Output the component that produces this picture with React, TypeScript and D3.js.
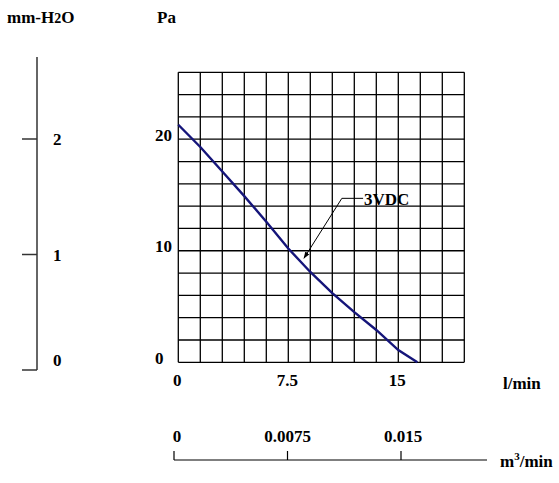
import React from "react";
import * as d3 from "d3";

const flow = [0, 1.5, 3, 4.5, 6, 7.5, 9, 10.5, 12, 13.5, 15, 16.3];
const pressure = [21.3, 19.3, 17.1, 14.9, 12.6, 10.2, 8.1, 6.2, 4.5, 2.9, 1.1, 0];
const paTicks = [0, 10, 20];
const lminTicks = [0, 7.5, 15];
const lminTickLabels = ["0", "7.5", "15"];
const m3Ticks = [0, 0.0075, 0.015];
const m3TickLabels = ["0", "0.0075", "0.015"];
const mmTicks = [0, 1, 2];
const seriesLabel = "3VDC";

const FONT = "'Liberation Serif', 'Times New Roman', serif";

export default function App() {
  const x = d3.scaleLinear().domain([0, 19.5]).range([178.3, 464.3]);
  const y = d3.scaleLinear().domain([0, 26]).range([362.3, 72.3]);
  const xm3 = d3.scaleLinear().domain([0, 0.015]).range([174, 401]);
  const ymm = d3.scaleLinear().domain([0, 2]).range([370, 139]);

  const vLines = d3.range(0, 19.5 + 0.001, 1.5);
  const hLines = d3.range(0, 26 + 0.001, 2);

  const line = d3
    .line<number>()
    .x((_, i) => x(flow[i]))
    .y((d) => y(d))
    .curve(d3.curveLinear);

  const textStyle = { fontFamily: FONT, fontWeight: 700, fontSize: 17, fill: "#000" } as const;

  return (
    <svg
      width={559}
      height={483}
      style={{ position: "absolute", left: 0, top: 0, background: "#fff" }}
    >
      <defs>
        <marker id="arr" viewBox="0 0 10 10" refX="9" refY="5" markerWidth="7" markerHeight="7" orient="auto">
          <path d="M0,1.5 L10,5 L0,8.5 z" fill="#000" />
        </marker>
      </defs>
      <rect width={559} height={483} fill="#fff" />

      {/* header labels */}
      <text x={7} y={23} {...textStyle}>
        mm-H<tspan fontSize={14}>2</tspan>O
      </text>
      <text x={157} y={23} {...textStyle}>Pa</text>

      {/* left mm-H2O axis */}
      <line x1={37} x2={37} y1={57} y2={ymm(0)} stroke="#333" strokeWidth={1.5} />
      {mmTicks.map((t) => (
        <g key={"mm" + t}>
          <line x1={22} x2={37} y1={ymm(t)} y2={ymm(t)} stroke="#333" strokeWidth={1.5} />
          <text x={53} y={t === 0 ? ymm(t) - 4 : ymm(t) + 6} {...textStyle}>
            {t}
          </text>
        </g>
      ))}

      {/* grid */}
      {vLines.map((v) => (
        <line key={"v" + v} x1={x(v)} x2={x(v)} y1={y(26)} y2={y(0)} stroke="#000" strokeWidth={1.3} />
      ))}
      {hLines.map((h) => (
        <line key={"h" + h} x1={x(0)} x2={x(19.5)} y1={y(h)} y2={y(h)} stroke="#000" strokeWidth={1.3} />
      ))}

      {/* Pa tick labels */}
      {paTicks.map((t) => (
        <text key={"pa" + t} x={155} y={y(t) + 1.5} {...textStyle}>
          {t}
        </text>
      ))}

      {/* curve */}
      <path d={line(pressure) || ""} fill="none" stroke="#15157a" strokeWidth={2.4} />

      {/* annotation */}
      <polyline
        points={`${x(12.6)},${y(14.7)} ${x(11.15)},${y(14.7)} ${x(8.57)},${y(9.33)}`}
        fill="none"
        stroke="#000"
        strokeWidth={1}
        markerEnd="url(#arr)"
      />
      <text x={364} y={205} {...textStyle}>{seriesLabel}</text>

      {/* l/min labels */}
      {lminTicks.map((t, i) => (
        <text key={"lm" + t} x={x(t) - 1} y={386} textAnchor="middle" {...textStyle}>
          {lminTickLabels[i]}
        </text>
      ))}
      <text x={503} y={389} {...textStyle}>l/min</text>

      {/* m3/min axis */}
      <line x1={xm3(0)} x2={487} y1={460} y2={460} stroke="#000" strokeWidth={1.2} />
      {m3Ticks.map((t, i) => (
        <g key={"m3" + t}>
          <line x1={xm3(t)} x2={xm3(t)} y1={451} y2={460} stroke="#000" strokeWidth={1.2} />
          <text x={xm3(t) + (i === 0 ? 3 : i === 2 ? 2 : 0)} y={442} textAnchor="middle" {...textStyle}>
            {m3TickLabels[i]}
          </text>
        </g>
      ))}
      <text x={500} y={467} {...textStyle}>
        m<tspan fontSize={11} dy={-7}>3</tspan>
        <tspan dy={7}>/min</tspan>
      </text>
    </svg>
  );
}
